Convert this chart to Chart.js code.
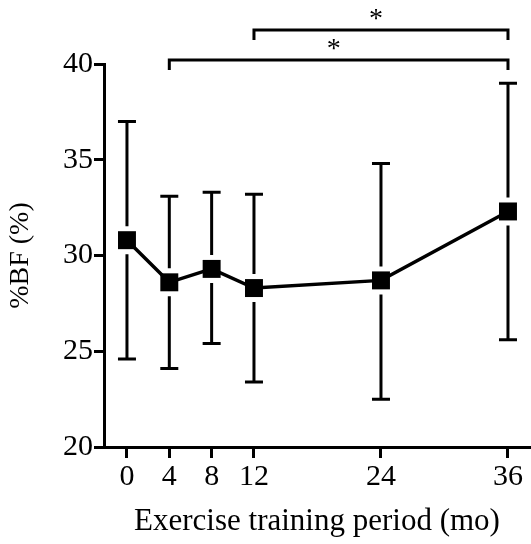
<!DOCTYPE html>
<html><head><meta charset="utf-8">
<script src="https://cdn.jsdelivr.net/npm/chart.js@4"></script>
<style>html,body{margin:0;padding:0;background:#fff}#w{width:531px;height:544px}</style>
</head><body><div id="w"><canvas id="c"></canvas></div>
<script>
const months = [0, 4, 8, 12, 24, 36];
const meanBF = [30.8, 28.6, 29.3, 28.3, 28.7, 32.3];
const upperBF = [37.0, 33.1, 33.3, 33.2, 34.8, 39.0];
const lowerBF = [24.6, 24.1, 25.4, 23.4, 22.5, 25.6];
const xTicks = [0, 4, 8, 12, 24, 36];
const brackets = [ {from: 4, to: 36, label: '*'}, {from: 12, to: 36, label: '*'} ];

const serif = "'Liberation Serif', 'DejaVu Serif', serif";

const errPlugin = {
  id: 'err',
  beforeDatasetsDraw(chart) {
    const ctx = chart.ctx, xs = chart.scales.x, ys = chart.scales.y;
    ctx.save();
    ctx.strokeStyle = '#000';
    ctx.lineWidth = 3;
    months.forEach((m, i) => {
      const x = xs.getPixelForValue(m);
      const yc = ys.getPixelForValue(meanBF[i]);
      const yt = ys.getPixelForValue(upperBF[i]);
      const yb = ys.getPixelForValue(lowerBF[i]);
      ctx.beginPath();
      ctx.moveTo(x, yt); ctx.lineTo(x, yc - 14);
      ctx.moveTo(x, yc + 14); ctx.lineTo(x, yb);
      ctx.moveTo(x - 9, yt); ctx.lineTo(x + 9, yt);
      ctx.moveTo(x - 9, yb); ctx.lineTo(x + 9, yb);
      ctx.stroke();
    });
    ctx.restore();
  },
  afterDatasetsDraw(chart) {
    const ctx = chart.ctx, xs = chart.scales.x;
    ctx.save();
    ctx.strokeStyle = '#000';
    ctx.fillStyle = '#000';
    ctx.lineWidth = 3;
    const levels = [60, 30];
    brackets.forEach((b, k) => {
      const x1 = xs.getPixelForValue(b.from), x2 = xs.getPixelForValue(b.to);
      const y = levels[k];
      ctx.beginPath();
      ctx.moveTo(x1, y + 10); ctx.lineTo(x1, y); ctx.lineTo(x2, y); ctx.lineTo(x2, y + 10);
      ctx.stroke();
      ctx.font = "28px " + serif;
      ctx.textAlign = 'center';
      ctx.textBaseline = 'middle';
      ctx.fillText(b.label, (x1 + x2) / 2 - 5, y - 10);
    });
    ctx.restore();
  }
};

new Chart(document.getElementById('c'), {
  type: 'scatter',
  data: {
    datasets: [{
      data: months.map((m, i) => ({x: m, y: meanBF[i]})),
      showLine: true,
      borderColor: '#000',
      borderWidth: 3.5,
      backgroundColor: '#000',
      pointStyle: 'rect',
      pointRadius: 12.7,
      pointHoverRadius: 12.7,
      pointBorderWidth: 0,
      clip: false
    }]
  },
  options: {
    responsive: true,
    maintainAspectRatio: false,
    animation: false,
    events: [],
    layout: { autoPadding: false, padding: { top: 64, right: 1, left: 0, bottom: 0 } },
    plugins: { legend: { display: false }, tooltip: { enabled: false } },
    scales: {
      x: {
        type: 'linear', min: -2.17, max: 38.08,
        afterBuildTicks: s => { s.ticks = xTicks.map(v => ({value: v})); },
        afterFit: s => { s.height = 97; s.paddingLeft = 0; s.paddingRight = 0; },
        grid: { drawOnChartArea: false, drawTicks: true, tickLength: 11, tickWidth: 3, tickColor: '#000' },
        border: { display: true, color: '#000', width: 3 },
        ticks: { color: '#000', font: { family: serif, size: 30 }, padding: 1, maxRotation: 0 },
        title: { display: true, text: 'Exercise training period (mo)', color: '#000', font: { family: serif, size: 31 }, padding: { top: 4 } }
      },
      y: {
        min: 20, max: 40,
        ticks: { stepSize: 5, color: '#000', font: { family: serif, size: 30 }, padding: 1 },
        afterFit: s => { s.width = 104; },
        grid: { drawOnChartArea: false, drawTicks: true, tickLength: 10, tickWidth: 3, tickColor: '#000' },
        border: { display: true, color: '#000', width: 3 },
        title: { display: true, text: '%BF (%)', color: '#000', font: { family: serif, size: 28 }, padding: { top: 4, bottom: 0 } }
      }
    }
  },
  plugins: [errPlugin]
});
</script></body></html>
